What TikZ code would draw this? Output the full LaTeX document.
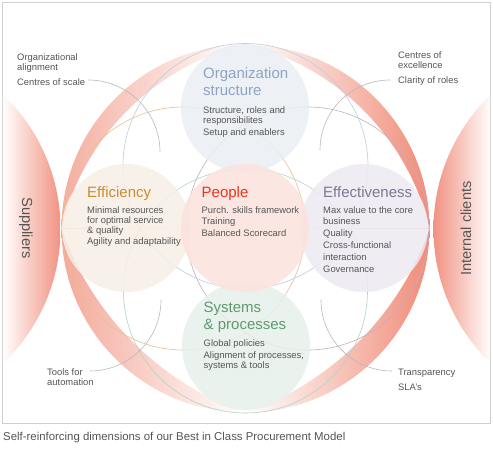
\documentclass[tikz,border=0pt]{standalone}
\usepackage{fontspec}
\setmainfont{Liberation Sans}
\definecolor{framegray}{RGB}{208,208,208}
\definecolor{lensred}{RGB}{241,146,130}
\definecolor{lunered}{RGB}{240,140,120}
\definecolor{bodygray}{RGB}{85,85,85}
\definecolor{leadgray}{RGB}{185,185,185}
\definecolor{thinorange}{RGB}{234,190,145}
\definecolor{thinpurple}{RGB}{196,173,192}
\definecolor{thinblue}{RGB}{190,205,222}
\definecolor{thingreen}{RGB}{176,212,198}
\definecolor{orgfill}{RGB}{234,239,245}
\definecolor{peoplefill}{RGB}{252,226,221}
\definecolor{efffill}{RGB}{247,239,230}
\definecolor{effectfill}{RGB}{237,235,242}
\definecolor{sysfill}{RGB}{231,240,235}
\definecolor{orgtitle}{RGB}{143,163,196}
\definecolor{efftitle}{RGB}{200,140,50}
\definecolor{peopletitle}{RGB}{232,52,30}
\definecolor{effectitle}{RGB}{125,117,150}
\definecolor{systitle}{RGB}{94,154,112}
\tikzset{
  petal/.style={fill opacity=0.85},
  thin/.style={line width=0.6pt},
  leader/.style={draw=leadgray, line width=0.6pt},
  body/.style={inner sep=0pt, anchor=north west, align=left, text=bodygray,
    font=\fontsize{9.4}{10}\selectfont},
  ttl/.style={inner sep=0pt, anchor=north west, align=left,
    font=\fontsize{15}{17}\selectfont},
  sidelbl/.style={inner sep=0pt, text=bodygray, font=\fontsize{14.6}{16}\selectfont}
}
\begin{document}
\begin{tikzpicture}[x=1pt,y=-1pt]
\useasboundingbox (0,0) rectangle (493,457);
\fill[white] (0,0) rectangle (493,457);
\draw[framegray, line width=0.8pt] (2.5,2.5) rectangle (490.5,423.5);
% side lenses
\begin{scope}
  \clip (2.9,0) rectangle (490.1,457);
  \clip (-125.5,229) circle (186pt);
  \shade[left color=white, middle color=lensred!45, right color=lensred] (2.5,40) rectangle (60.5,420);
\end{scope}
\begin{scope}
  \clip (2.9,0) rectangle (490.1,457);
  \clip (619.5,229) circle (186pt);
  \shade[left color=lensred, middle color=lensred!45, right color=white] (433.5,40) rectangle (491.5,420);
\end{scope}
% lunes
\coordinate (C) at (245.5,228.5);
\begin{scope}[even odd rule]
  \clip (C) circle (184pt);
  \clip (0,0) rectangle (245.5,228.5) (302.7,285.7) circle (247.9pt);
  \shade[left color=lunered!70, middle color=lunered!45, right color=white] (61.5,40) rectangle (245.5,228.5);
\end{scope}
\begin{scope}[even odd rule]
  \clip (C) circle (184pt);
  \clip (245.5,0) rectangle (493,228.5) (188.3,285.7) circle (247.9pt);
  \shade[left color=white, middle color=lunered!50, right color=lunered] (245.5,40) rectangle (429.5,228.5);
\end{scope}
\begin{scope}[even odd rule]
  \clip (C) circle (184pt);
  \clip (0,228.5) rectangle (245.5,457) (343.2,130.9) circle (298.1pt);
  \shade[left color=lunered!75, middle color=lunered!55, right color=white] (61.5,228.5) rectangle (245.5,415);
\end{scope}
\begin{scope}[even odd rule]
  \clip (C) circle (184pt);
  \clip (245.5,228.5) rectangle (493,457) (147.9,130.9) circle (298.1pt);
  \shade[left color=white, middle color=lunered!55, right color=lunered] (245.5,228.5) rectangle (429.5,415);
\end{scope}
% thin circles
\draw[thin, thinorange] (183.5,228.5) circle (121.5pt);
\draw[thin, thinpurple] (307.5,228.5) circle (121.5pt);
\draw[thin, thinblue] (245.5,166) circle (122.5pt);
\draw[thin, thingreen] (245.5,291) circle (122pt);
% petals
\fill[petal, orgfill] (245,108) circle (64pt);
\fill[petal, efffill] (126,228) circle (64pt);
\fill[petal, effectfill] (364,228) circle (64pt);
\fill[petal, sysfill] (246,346) circle (64pt);
\fill[petal, peoplefill] (245,228) circle (64pt);
% leader arcs
\draw[leader] (88,80) arc[start angle=90, end angle=0, radius=72pt];
\draw[leader] (390,80) arc[start angle=90, end angle=180, radius=70pt];
\draw[leader] (90,371) arc[start angle=-90, end angle=0, radius=71pt];
\draw[leader] (392,371) arc[start angle=-90, end angle=-180, radius=71pt];
% side labels
\node[sidelbl, rotate=-90] (sup) at (26,228) {Suppliers};
\node[sidelbl, rotate=90] (cli) at (466,228.5) {Internal clients};
% outer labels
\node[body] (oa) at (17,53) {Organizational\\alignment};
\node[body] (cs) at (17,78) {Centres of scale};
\node[body] (ce) at (398,52) {Centres of\\excellence};
\node[body] (cr) at (398,76.5) {Clarity of roles};
\node[body] (ta) at (47,368.5) {Tools for\\automation};
\node[body] (tr) at (398,368.5) {Transparency};
\node[body] (sl) at (398,383.5) {SLA’s};
% organization
\node[ttl, text=orgtitle] (ost) at (203,67) {Organization\\structure};
\node[body] (osb) at (203,106) {Structure, roles and\\responsibilites\\[2pt]Setup and enablers};
% efficiency
\node[ttl, text=efftitle] (eft) at (87,186) {Efficiency};
\node[body] (efb) at (87,206) {Minimal resources\\for optimal service\\\& quality\\[1.7pt]Agility and adaptability};
% people
\node[ttl, text=peopletitle] (pet) at (201.5,186) {People};
\node[body] (peb) at (201.5,206) {Purch. skills framework\\[1.7pt]Training\\[1.7pt]Balanced Scorecard};
% effectiveness
\node[ttl, text=effectitle] (ect) at (323,186) {Effectiveness};
\node[body] (ecb) at (323,206) {Max value to the core\\[1.7pt]business\\[1.7pt]Quality\\[2.5pt]Cross-functional\\[1.7pt]interaction\\[1.7pt]Governance};
% systems
\node[ttl, text=systitle] (syt) at (203.5,302) {Systems\\\& processes};
\node[body] (syb) at (203.5,339) {Global policies\\[2.7pt]Alignment of processes,\\systems \& tools};
% caption
\node[inner sep=0pt, anchor=base west, text=bodygray, font=\fontsize{11.4}{13}\selectfont] (cap) at (3,440.5) {Self-reinforcing dimensions of our Best in Class Procurement Model};
\end{tikzpicture}
\end{document}
